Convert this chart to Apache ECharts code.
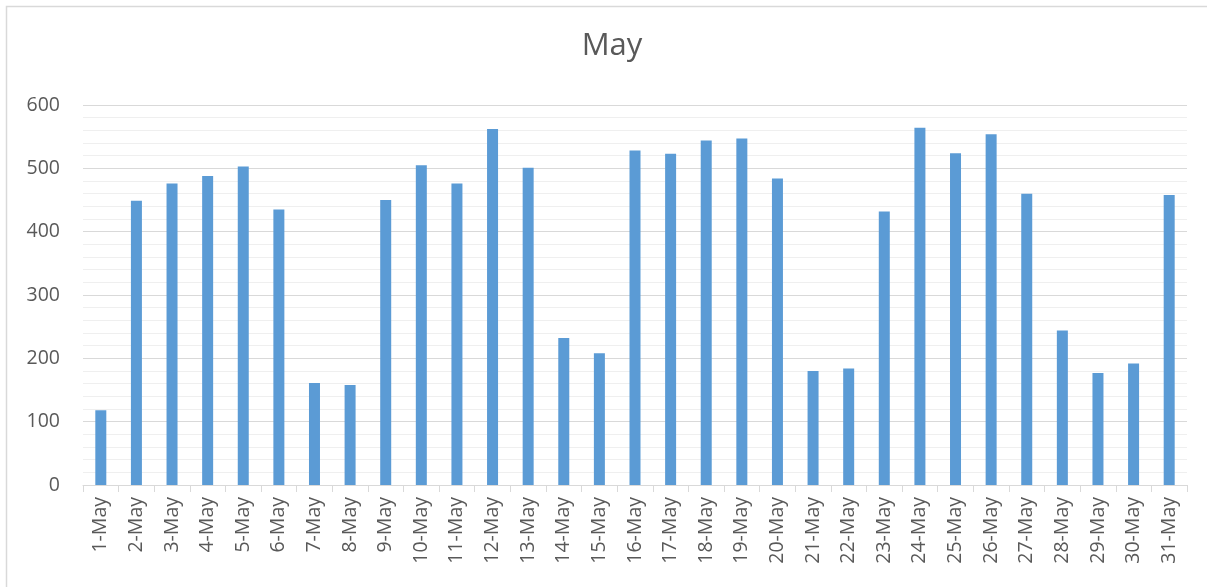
<!DOCTYPE html>
<html>
<head>
<meta charset="utf-8">
<script src="https://cdn.jsdelivr.net/npm/echarts@6/dist/echarts.min.js"></script>
<style>
  html, body { margin: 0; padding: 0; background: #fff; }
  #chart { width: 1207px; height: 587px; }
</style>
</head>
<body>
<div id="chart"></div>
<script>
var days = [];
for (var d = 1; d <= 31; d++) days.push(d + "-May");

var values = [
  118, 449, 476, 488, 503, 435, 161, 158, 450, 505,
  476, 562, 501, 232, 208, 528, 523, 544, 547, 484,
  180, 184, 432, 564, 524, 554, 460, 244, 177, 192, 458
];

var yTicks = [0, 100, 200, 300, 400, 500, 600];

var chartDom = document.getElementById("chart");
var myChart = echarts.init(chartDom);
var option;

option = {
  animation: false,
  textStyle: { fontFamily: "Open Sans" },
  // light frame round the chart area (right/bottom fall off the page)
  graphic: [
    {
      type: "rect",
      shape: { x: 6.5, y: 6.5, width: 1230, height: 620 },
      style: { fill: "none", stroke: "#d9d9d9", lineWidth: 1.5 },
      silent: true,
    },
  ],
  title: {
    text: "May",
    left: 607,
    top: 26,
    textAlign: "center",
    textStyle: {
      fontFamily: "Open Sans",
      fontSize: 31,
      fontWeight: "normal",
      color: "#595959",
    },
  },
  grid: {
    left: 83,
    right: 20,
    top: 105,
    bottom: 102,
  },
  xAxis: {
    type: "category",
    data: days,
    axisLine: { lineStyle: { color: "#d9d9d9", width: 1 } },
    axisTick: { show: true, length: 7, lineStyle: { color: "#d9d9d9" } },
    axisLabel: {
      rotate: 90,
      interval: 0,
      margin: 12,
      fontSize: 19.5,
      color: "#595959",
      fontFamily: "Open Sans",
    },
  },
  yAxis: {
    type: "value",
    min: yTicks[0],
    max: yTicks[yTicks.length - 1],
    interval: 100,
    axisLine: { show: false },
    axisTick: { show: false },
    axisLabel: {
      margin: 23,
      fontSize: 19.5,
      color: "#595959",
      fontFamily: "Open Sans",
    },
    splitLine: { lineStyle: { color: "#d9d9d9", width: 1 } },
    minorTick: { show: false, splitNumber: 5 },
    minorSplitLine: { show: true, lineStyle: { color: "#efefef", width: 1 } },
  },
  series: [
    {
      name: "May",
      type: "bar",
      data: values,
      barWidth: 11,
      itemStyle: { color: "#5b9bd5" },
    },
  ],
};

option && myChart.setOption(option);
</script>
</body>
</html>
